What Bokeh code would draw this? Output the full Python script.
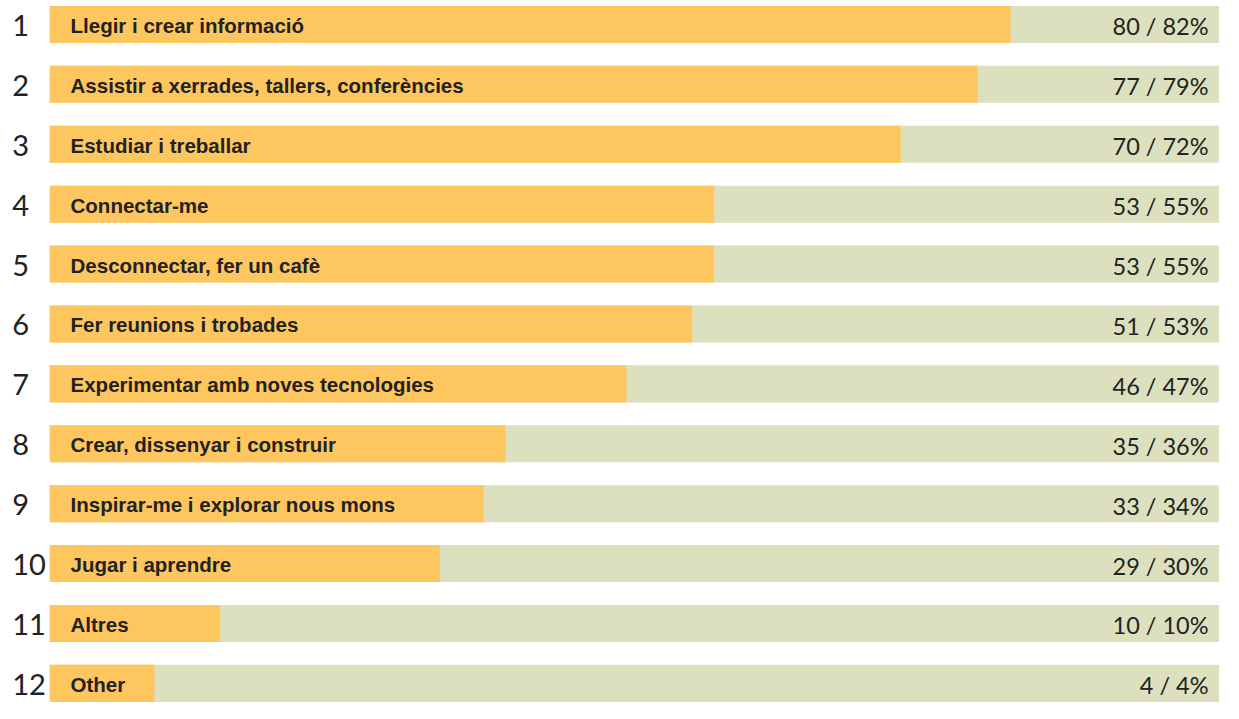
from bokeh.plotting import figure
from bokeh.models import ColumnDataSource, Range1d
from bokeh.core.properties import value
from bokeh.embed import file_html
from bokeh.resources import INLINE

labels = [
    "Llegir i crear informació",
    "Assistir a xerrades, tallers, conferències",
    "Estudiar i treballar",
    "Connectar-me",
    "Desconnectar, fer un cafè",
    "Fer reunions i trobades",
    "Experimentar amb noves tecnologies",
    "Crear, dissenyar i construir",
    "Inspirar-me i explorar nous mons",
    "Jugar i aprendre",
    "Altres",
    "Other",
]
counts = [80, 77, 70, 53, 53, 51, 46, 35, 33, 29, 10, 4]
pcts = [82, 79, 72, 55, 55, 53, 47, 36, 34, 30, 10, 4]
ranks = list(range(1, 13))

BAR_LEFT = -5.53
BG_RIGHT = 101.0

src = ColumnDataSource(dict(
    rank=ranks,
    rank_txt=[str(r) for r in ranks],
    label=labels,
    pct=pcts,
    val=[f"{c} / {p}%" for c, p in zip(counts, pcts)],
    left=[BAR_LEFT] * len(ranks),
    bgr=[BG_RIGHT] * len(ranks),
))

p = figure(width=1223, height=703, output_backend="svg", toolbar_location=None,
           x_range=Range1d(-10.02, 101.4), y_range=Range1d(12.336, 0.6),
           min_border=0, background_fill_color="white", border_fill_color="white")
p.axis.visible = False
p.grid.visible = False
p.outline_line_color = None

p.hbar(y="rank", left="left", right="bgr", height=0.618, source=src,
       fill_color="#dde0bf", line_color=None)
p.hbar(y="rank", left="left", right="pct", height=0.618, source=src,
       fill_color="#fec65e", line_color=None)

p.text(x=-3.64, y="rank", text="label", source=src, text_baseline="middle",
       text_align="left", text_font=value("Liberation Sans"), text_font_style="bold",
       text_font_size="20.5px", text_color="#222222", y_offset=1)
p.text(x=100.04, y="rank", text="val", source=src, text_baseline="middle",
       text_align="right", text_font=value("Lato"), text_font_size="23.5px",
       text_color="#222222", y_offset=2)
p.text(x=-8.95, y="rank", text="rank_txt", source=src, text_baseline="middle",
       text_align="left", text_font=value("Lato"), text_font_size="29px",
       text_color="#222222", y_offset=1)

open("out.html", "w").write(file_html(p, INLINE))
